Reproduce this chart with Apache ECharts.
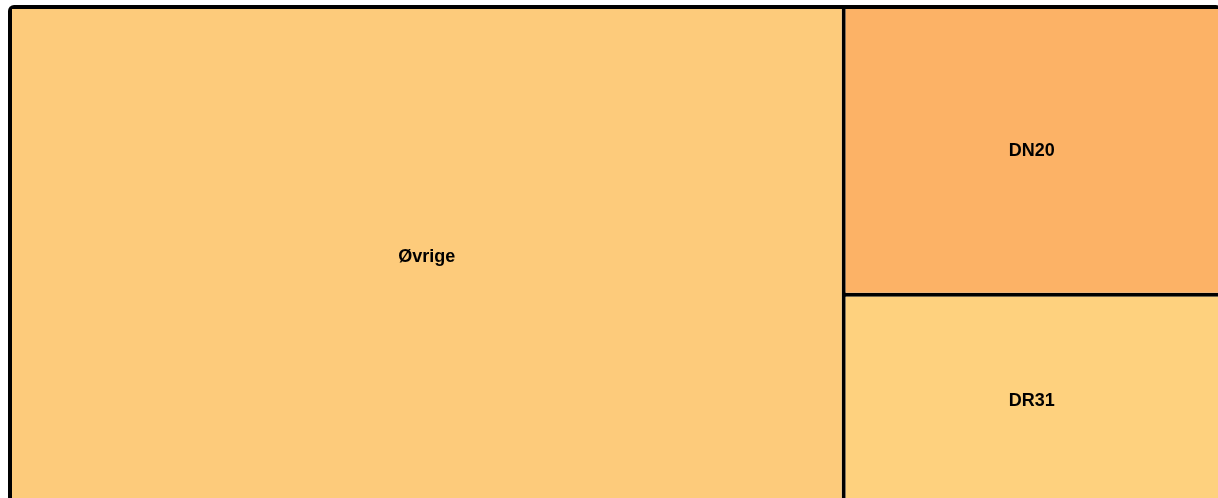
<!DOCTYPE html>
<html>
<head>
<meta charset="utf-8">
<style>
  html, body { margin: 0; padding: 0; background: #fff; overflow: hidden; }
  #chart { width: 1240px; height: 520px; }
</style>
<script src="https://cdn.jsdelivr.net/npm/echarts@6/dist/echarts.min.js"></script>
</head>
<body>
<div id="chart"></div>
<script>
const names = ['Øvrige', 'DN20', 'DR31']
const values = [68.9, 17.9, 13.2]
const colors = ['#fdcb7b', '#fcb266', '#fed17e']

// the treemap box runs past the right and bottom edge of the window, as in the original
const chart = echarts.init(document.getElementById('chart'))
chart.setOption({
  animation: false,
  series: [{
    type: 'treemap',
    left: 8,
    top: 5,
    width: 1214,
    height: 504,
    roam: false,
    nodeClick: false,
    squareRatio: 1,
    breadcrumb: { show: false },
    sort: 'desc',
    label: {
      show: true,
      position: 'inside',
      color: '#000',
      fontFamily: 'Liberation Sans, Arial, sans-serif',
      fontWeight: 'bold',
      fontSize: 18
    },
    levels: [{
      itemStyle: {
        borderColor: '#000',
        borderWidth: 4,
        gapWidth: 4,
        borderRadius: 6
      }
    }, {
      itemStyle: {
        borderWidth: 0,
        gapWidth: 0
      }
    }],
    data: names.map((n, i) => ({
      name: n,
      value: values[i],
      itemStyle: { color: colors[i] }
    }))
  }]
})
</script>
</body>
</html>
